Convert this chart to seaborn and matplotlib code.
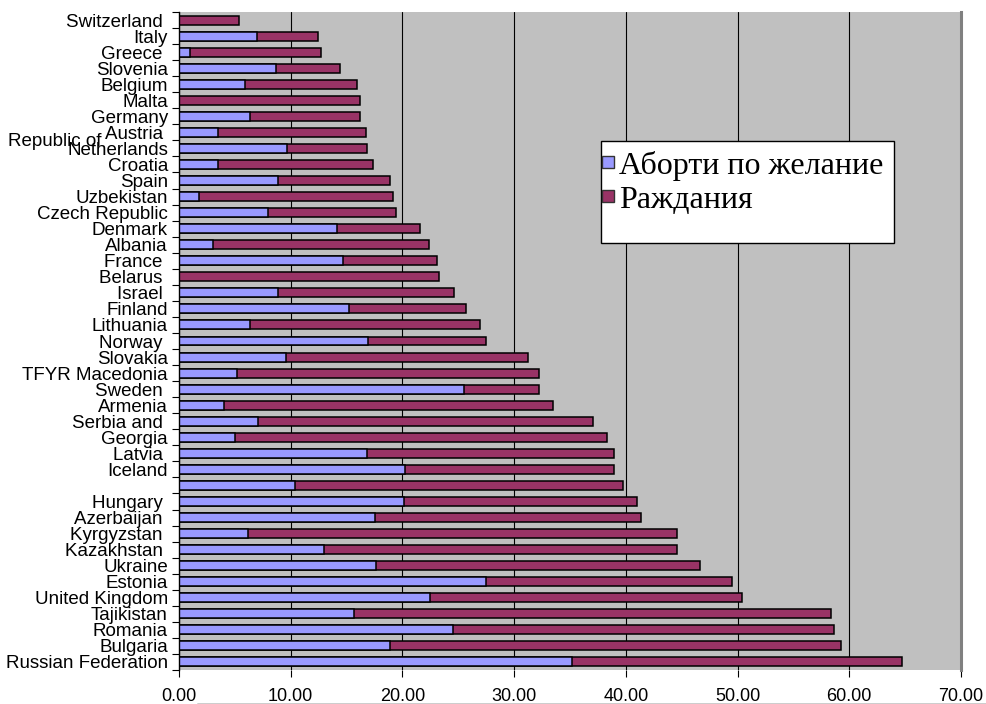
import numpy as np
import pandas as pd
import matplotlib.pyplot as plt
import seaborn as sns
from matplotlib.patches import Patch, Rectangle
from matplotlib.lines import Line2D
from matplotlib.ticker import FormatStrFormatter

countries = ['Switzerland ', 'Italy', 'Greece ', 'Slovenia', 'Belgium', 'Malta', 'Germany',
             'Austria ', 'Netherlands', 'Croatia', 'Spain', 'Uzbekistan', 'Czech Republic',
             'Denmark', 'Albania', 'France ', 'Belarus ', 'Israel ', 'Finland', 'Lithuania',
             'Norway ', 'Slovakia', 'TFYR Macedonia', 'Sweden ', 'Armenia', 'Serbia and ',
             'Georgia', 'Latvia ', 'Iceland', '', 'Hungary ', 'Azerbaijan ', 'Kyrgyzstan ',
             'Kazakhstan ', 'Ukraine', 'Estonia', 'United Kingdom', 'Tajikistan', 'Romania',
             'Bulgaria', 'Russian Federation']
abortions = [0.0, 7.0, 1.0, 8.7, 5.9, 0.0, 6.4, 3.5, 9.7, 3.5, 8.9, 1.8, 8.0, 14.1, 3.0,
             14.7, 0.0, 8.9, 15.2, 6.4, 16.9, 9.6, 5.2, 25.5, 4.0, 7.1, 5.0, 16.8, 20.2,
             10.4, 20.1, 17.5, 6.2, 13.0, 17.6, 27.5, 22.5, 15.7, 24.5, 18.9, 35.2]
births = [5.4, 5.4, 11.7, 5.7, 10.0, 16.2, 9.8, 13.2, 7.1, 13.9, 10.0, 17.4, 11.4, 7.5, 19.4,
          8.4, 23.3, 15.7, 10.5, 20.5, 10.6, 21.6, 27.0, 6.7, 29.5, 30.0, 33.3, 22.1, 18.7,
          29.3, 20.9, 23.9, 38.4, 31.6, 29.0, 22.0, 27.9, 42.7, 34.1, 40.4, 29.5]
series_names = ['Аборти по желание', 'Раждания']

df = pd.DataFrame({'country': countries, 'abortions': abortions, 'births': births})
df['total'] = df['abortions'] + df['births']

blue = '#9999FF'
maroon = '#993366'

sns.set_style('white')
plt.rcParams['font.family'] = ['Liberation Sans', 'DejaVu Sans']
plt.rcParams['text.color'] = 'black'
plt.rcParams['xtick.color'] = 'black'
plt.rcParams['ytick.color'] = 'black'

fig = plt.figure(figsize=(9.86, 7.04), dpi=100)
ax = fig.add_axes([179 / 986, 34 / 704, 782 / 986, 658 / 704])
ax.set_facecolor('#C0C0C0')

sns.barplot(data=df, y='country', x='total', order=countries, color=maroon, saturation=1,
            width=0.56, edgecolor='black', linewidth=1.1, orient='h', ax=ax, zorder=3)
sns.barplot(data=df, y='country', x='abortions', order=countries, color=blue, saturation=1,
            width=0.56, edgecolor='black', linewidth=1.1, orient='h', ax=ax, zorder=4)

n = len(countries)
ax.set_xlim(0, 70)
ax.set_ylim(n - 0.5, -0.5)
ax.set_xticks(np.arange(0, 71, 10))
ax.xaxis.set_major_formatter(FormatStrFormatter('%.2f'))
ax.set_xlabel('')
ax.set_ylabel('')

ax.set_axisbelow(True)
ax.xaxis.grid(True, color='black', linewidth=0.8)
ax.yaxis.grid(False)

for s in ['top', 'bottom']:
    ax.spines[s].set_visible(False)
ax.spines['left'].set_color('black')
ax.spines['left'].set_linewidth(1.0)
ax.spines['left'].set_zorder(5)
ax.spines['right'].set_color('#808080')
ax.spines['right'].set_linewidth(2.2)
ax.spines['right'].set_zorder(5)

ax.tick_params(axis='x', which='major', direction='out', length=5, width=0.8, color='black',
               labelsize=13, pad=8, bottom=True, labelcolor='black')
ax.tick_params(axis='y', which='major', length=0, labelsize=13.5, pad=8, left=True,
               labelcolor='black')
ax.set_yticks(np.arange(n + 1) - 0.5, minor=True)
ax.tick_params(axis='y', which='minor', direction='out', length=5, width=0.8, color='black', left=True)

# wrapped label fragment that sits at the left of the category labels
ax.text(-0.219, 7.6, 'Republic of', transform=ax.get_yaxis_transform(), ha='left', va='center',
        fontsize=13.5, color='black')

# legend box
fig.add_artist(Rectangle((601 / 986, (704 - 243) / 704), 293 / 986, 102 / 704,
                         transform=fig.transFigure, facecolor='white', edgecolor='black',
                         linewidth=1.0, zorder=4))
handles = [Patch(facecolor=blue, edgecolor='#333333', linewidth=1.0),
           Patch(facecolor=maroon, edgecolor='#333333', linewidth=1.0)]
fig.legend(handles, series_names, loc='upper left', bbox_to_anchor=(586 / 986, 1 - 135 / 704),
           frameon=False, borderpad=0, handlelength=0.38, handleheight=0.2,
           handletextpad=0.15, labelspacing=0.15,
           prop={'family': ['Liberation Serif', 'DejaVu Serif'], 'size': 23})

fig.add_artist(Line2D([197 / 986, 1.0], [0.5 / 704, 0.5 / 704], transform=fig.transFigure,
                      color='black', linewidth=1.0))

fig.savefig('out.png', dpi=100)
